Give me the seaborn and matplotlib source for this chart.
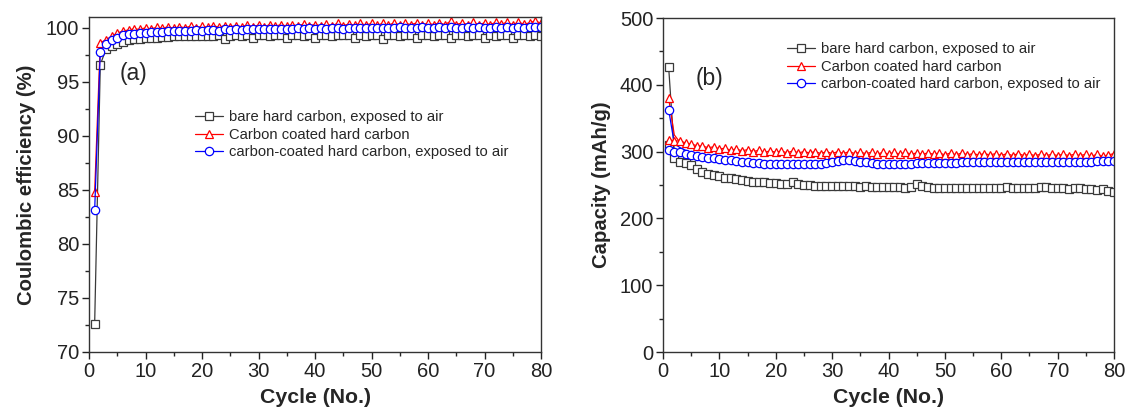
import numpy as np
import pandas as pd
import matplotlib
matplotlib.use("Agg")
import matplotlib.pyplot as plt
import matplotlib.transforms as mtrans
import seaborn as sns
from matplotlib.ticker import MultipleLocator

cycles = list(range(1, 81))

labels = ["bare hard carbon, exposed to air",
          "Carbon coated hard carbon",
          "carbon-coated hard carbon, exposed to air"]

# ---- panel (a): Coulombic efficiency (%) ----
ce_bare = [72.6, 96.6, 98.0, 98.3, 98.5, 98.7, 98.85, 98.95, 99.0, 99.05,
           99.1, 99.1, 99.15, 99.15, 99.2, 99.2, 99.2, 99.25, 99.2, 99.25,
           99.2, 99.25, 99.3, 99.0, 99.25, 99.3, 99.25, 99.3, 99.1, 99.3,
           99.3, 99.25, 99.3, 99.3, 99.05, 99.3, 99.3, 99.25, 99.3, 99.1,
           99.3, 99.3, 99.25, 99.3, 99.3, 99.3, 99.1, 99.3, 99.25, 99.3,
           99.3, 99.0, 99.3, 99.3, 99.25, 99.3, 99.3, 99.1, 99.3, 99.3,
           99.25, 99.3, 99.3, 99.05, 99.3, 99.3, 99.25, 99.3, 99.3, 99.1,
           99.3, 99.25, 99.3, 99.3, 99.05, 99.3, 99.3, 99.25, 99.3, 99.2]
ce_coated = [84.8, 98.6, 98.9, 99.2, 99.5, 99.7, 99.8, 99.9, 99.85, 100.0,
             99.9, 100.05, 99.95, 100.1, 99.95, 100.1, 100.0, 100.15, 100.0, 100.15,
             100.05, 100.2, 100.05, 100.2, 100.1, 100.2, 100.1, 100.25, 100.1, 100.25,
             100.1, 100.3, 100.15, 100.3, 100.15, 100.3, 100.15, 100.35, 100.2, 100.3,
             100.2, 100.35, 100.2, 100.4, 100.2, 100.35, 100.25, 100.4, 100.25, 100.4,
             100.25, 100.4, 100.25, 100.45, 100.25, 100.4, 100.3, 100.45, 100.3, 100.4,
             100.3, 100.45, 100.3, 100.6, 100.3, 100.45, 100.3, 100.5, 100.3, 100.45,
             100.3, 100.5, 100.35, 100.5, 100.3, 100.5, 100.35, 100.45, 100.65, 100.4]
ce_coated_air = [83.1, 97.8, 98.5, 98.9, 99.1, 99.3, 99.4, 99.45, 99.5, 99.55,
                 99.6, 99.6, 99.65, 99.7, 99.7, 99.75, 99.7, 99.75, 99.8, 99.75,
                 99.8, 99.8, 99.75, 99.85, 99.8, 99.85, 99.8, 99.9, 99.85, 99.9,
                 99.85, 99.9, 99.85, 99.9, 99.9, 99.85, 99.95, 99.9, 99.95, 99.9,
                 99.95, 99.9, 99.95, 99.95, 99.9, 100.0, 99.95, 100.0, 99.95, 100.0,
                 99.95, 100.0, 100.0, 99.95, 100.05, 100.0, 100.0, 99.95, 100.05, 100.0,
                 100.0, 100.05, 99.95, 100.05, 100.0, 99.95, 100.05, 100.0, 100.05, 99.95,
                 100.0, 100.05, 100.0, 100.05, 99.95, 100.05, 100.0, 100.05, 100.1, 100.05]

# ---- panel (b): Capacity (mAh/g) ----
# charge capacity (symbols at every cycle)
chg_bare = [310, 290, 285, 283, 280, 274, 270, 267, 265, 263,
            261, 260, 259, 257, 256, 255, 254, 254, 253, 253,
            252, 252, 255, 252, 250, 250, 249, 249, 249, 249,
            248, 248, 248, 248, 247, 248, 247, 247, 247, 247,
            247, 247, 246, 247, 251, 248, 247, 246, 246, 246,
            246, 246, 245, 246, 246, 245, 246, 246, 245, 246,
            247, 246, 246, 245, 245, 246, 247, 247, 246, 245,
            245, 244, 245, 246, 244, 244, 243, 244, 241, 239]
chg_coated = [318, 316, 316, 313, 311, 309, 308, 306, 307, 304,
              305, 302, 304, 301, 303, 300, 302, 299, 301, 299,
              301, 298, 301, 298, 300, 298, 300, 297, 300, 297,
              300, 297, 300, 297, 299, 297, 299, 296, 299, 296,
              299, 296, 299, 296, 298, 296, 298, 296, 298, 295,
              298, 295, 298, 295, 297, 295, 297, 295, 297, 294,
              297, 294, 297, 294, 296, 294, 296, 294, 296, 294,
              296, 294, 296, 294, 296, 293, 296, 293, 295, 297]
chg_coated_air = [302, 300, 299, 297, 295, 293, 292, 291, 290, 289,
                  288, 287, 286, 285, 284, 283, 283, 282, 282, 282,
                  281, 281, 281, 281, 281, 281, 281, 282, 283, 284,
                  286, 287, 287, 286, 285, 284, 283, 282, 282, 282,
                  282, 282, 282, 282, 283, 283, 283, 283, 283, 283,
                  283, 283, 284, 284, 284, 284, 284, 284, 284, 284,
                  284, 284, 284, 284, 284, 285, 285, 285, 285, 285,
                  285, 285, 285, 285, 285, 285, 286, 286, 286, 286]
# discharge capacity (line)
dis_bare = [427, 300, 288, 285, 282, 276, 272, 268, 266, 264,
            262, 261, 260, 258, 257, 256, 255, 255, 254, 254,
            253, 253, 256, 253, 251, 251, 250, 250, 250, 250,
            249, 249, 249, 249, 248, 249, 248, 248, 248, 248,
            248, 248, 247, 248, 252, 249, 248, 247, 247, 247,
            247, 247, 246, 247, 247, 246, 247, 247, 246, 247,
            248, 247, 247, 246, 246, 247, 248, 248, 247, 246,
            246, 245, 246, 247, 245, 245, 244, 245, 242, 240]
dis_coated = [380, 325, 314, 310, 307, 305, 303, 302, 301, 300,
              299, 298, 298, 297, 297, 296, 296, 296, 295, 295,
              295, 295, 294, 294, 294, 294, 294, 294, 294, 294,
              294, 293, 293, 293, 293, 293, 293, 293, 293, 293,
              293, 293, 293, 292, 292, 292, 292, 292, 292, 292,
              292, 292, 292, 292, 292, 292, 292, 291, 291, 291,
              291, 291, 291, 291, 291, 291, 291, 291, 291, 291,
              291, 291, 291, 291, 290, 290, 290, 290, 290, 291]
dis_coated_air = [363, 312, 306, 302, 299, 297, 295, 294, 293, 292,
                  291, 290, 289, 288, 287, 287, 286, 286, 285, 285,
                  285, 285, 285, 284, 284, 284, 285, 286, 287, 289,
                  290, 290, 290, 289, 288, 287, 286, 286, 285, 285,
                  285, 285, 285, 285, 286, 286, 286, 286, 286, 286,
                  286, 286, 287, 287, 287, 287, 287, 287, 287, 287,
                  287, 287, 287, 287, 287, 288, 288, 288, 288, 288,
                  288, 288, 288, 288, 288, 288, 289, 289, 289, 289]

colors = ["#3a3a3a", "#ff0000", "#0000ff"]
markers = ["s", "^", "o"]

sns.set_theme(style="ticks")
plt.rcParams["font.family"] = ["Liberation Sans", "DejaVu Sans"]
plt.rcParams["axes.linewidth"] = 1.0

fig = plt.figure(figsize=(11.25, 4.12), dpi=100)
ax1 = fig.add_axes([89/1125, 60/412, 452/1125, 335/412])
ax2 = fig.add_axes([663/1125, 60/412, 451/1125, 334/412])

ms = 6.0
lw = 0.9

df_ce = pd.DataFrame({"cycle": cycles * 3,
                      "ce": ce_bare + ce_coated + ce_coated_air,
                      "sample": sum([[l] * 80 for l in labels], [])})

for lab, col, mk in zip(labels, colors, markers):
    d = df_ce[df_ce["sample"] == lab]
    sns.lineplot(data=d, x="cycle", y="ce", ax=ax1, color=col, lw=lw,
                 marker=mk, markersize=ms, markerfacecolor="white",
                 markeredgecolor=col, markeredgewidth=0.9, label=lab)

chg = [chg_bare, chg_coated, chg_coated_air]
dis = [dis_bare, dis_coated, dis_coated_air]
for lab, col, mk, c, d in zip(labels, colors, markers, chg, dis):
    sns.lineplot(x=cycles, y=d, ax=ax2, color=col, lw=lw, marker=mk,
                 markevery=[0], markersize=ms, markerfacecolor="white",
                 markeredgecolor=col, markeredgewidth=0.9, label="_nolegend_")
for lab, col, mk, c, d in zip(labels, colors, markers, chg, dis):
    sns.lineplot(x=cycles, y=c, ax=ax2, color=col, lw=lw, marker=mk,
                 markersize=ms, markerfacecolor="white",
                 markeredgecolor=col, markeredgewidth=0.9, label=lab)

for ax in (ax1, ax2):
    ax.set_xlim(0, 80)
    ax.xaxis.set_major_locator(MultipleLocator(10))
    ax.xaxis.set_minor_locator(MultipleLocator(5))
    ax.tick_params(axis="both", which="major", direction="out", length=5,
                   width=1.0, labelsize=14.5, colors="#222222", pad=2,
                   top=False, right=False)
    ax.tick_params(axis="both", which="minor", direction="out", length=3,
                   width=1.0, top=False, right=False)
    for s in ax.spines.values():
        s.set_visible(True)
        s.set_color("#333333")
        s.set_linewidth(1.0)
    ax.set_xlabel("Cycle (No.)", fontsize=15.3, fontweight="bold", labelpad=5)

ax1.set_ylim(70, 101)
ax1.yaxis.set_major_locator(MultipleLocator(5))
ax1.yaxis.set_minor_locator(MultipleLocator(2.5))
ax1.set_ylabel("Coulombic efficiency (%)", fontsize=14.6, fontweight="bold", labelpad=7)

ax2.set_ylim(0, 500)
ax2.yaxis.set_major_locator(MultipleLocator(100))
ax2.yaxis.set_minor_locator(MultipleLocator(50))
ax2.set_ylabel("Capacity (mAh/g)", fontsize=14.6, fontweight="bold", labelpad=6)

ax1.text(5.4, 95.8, "(a)", fontsize=16.5, va="center", ha="left")
ax2.text(5.8, 410, "(b)", fontsize=16.5, va="center", ha="left")

leg_kw = dict(frameon=False, fontsize=10.6, handlelength=1.9, handletextpad=0.4,
              labelspacing=0.25, borderaxespad=0, borderpad=0)
ax1.legend(loc="upper left", bbox_to_anchor=(106/452, 1 - (110-17)/335), **leg_kw)
ax2.legend(loc="upper left", bbox_to_anchor=(124/451, 1 - (42-18)/334), **leg_kw)

# keep the last x tick label of panel (b) inside the figure
fig.canvas.draw()
last = ax2.get_xticklabels()[-1]
last.set_transform(last.get_transform() + mtrans.ScaledTranslation(-3/100, 0, fig.dpi_scale_trans))

fig.savefig("out.png", dpi=100)
